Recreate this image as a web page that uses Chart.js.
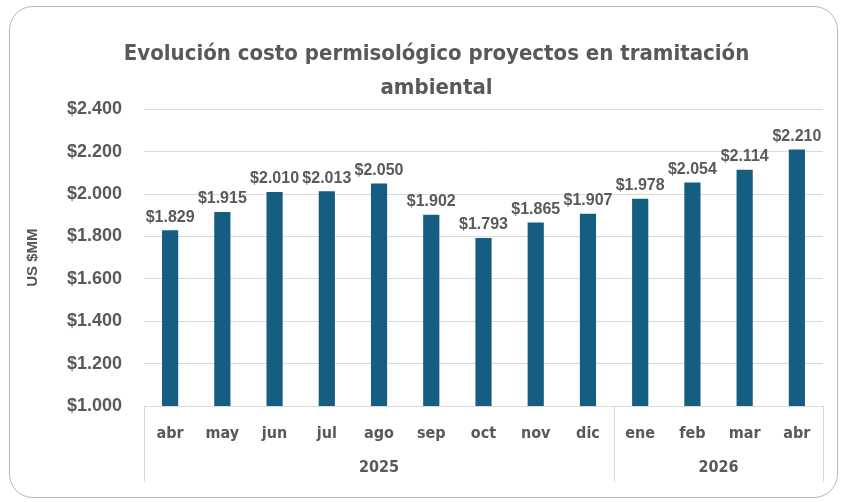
<!DOCTYPE html>
<html>
<head>
<meta charset="utf-8">
<script src="https://cdn.jsdelivr.net/npm/chart.js@4/dist/chart.umd.min.js"></script>
<style>
    html, body { margin: 0; padding: 0; background: #ffffff; }
    #frame {
        position: absolute; left: 9px; top: 6px; width: 829px; height: 492px;
        border: 1.5px solid #b8b8b8; border-radius: 24px; box-sizing: border-box;
    }
    #chart { position: absolute; left: 0; top: 0; }
</style>
</head>
<body>
<div id="frame"></div>
<canvas id="chart" width="843" height="502"></canvas>
<script>
const months = ['abr', 'may', 'jun', 'jul', 'ago', 'sep', 'oct', 'nov', 'dic', 'ene', 'feb', 'mar', 'abr'];
const years = ['2025', '2026'];
const yearSizes = [9, 4];
const costs = [1829, 1915, 2010, 2013, 2050, 1902, 1793, 1865, 1907, 1978, 2054, 2114, 2210];
const yTicks = [1000, 1200, 1400, 1600, 1800, 2000, 2200, 2400];

const textGray = '#595959';
const narrowFont = '"Liberation Sans Narrow", "DejaVu Sans Condensed", "Liberation Sans", sans-serif';
const wideFont = '"Liberation Sans", Arial, sans-serif';

function money(v) {
    let s = String(Math.round(v));
    if (s.length > 3) {
        s = s.slice(0, s.length - 3) + '.' + s.slice(s.length - 3);
    }
    return '$' + s;
}

// values above each bar
const barLabels = {
    id: 'barLabels',
    afterDatasetsDraw(chart) {
        const ctx = chart.ctx;
        const meta = chart.getDatasetMeta(0);
        ctx.save();
        ctx.fillStyle = textGray;
        ctx.font = 'bold 16px ' + wideFont;
        ctx.textAlign = 'center';
        ctx.textBaseline = 'bottom';
        meta.data.forEach((bar, i) => {
            ctx.fillText(money(costs[i]), bar.x, bar.y - 5);
        });
        ctx.restore();
    }
};

// second category row (years) with its box lines
const yearRow = {
    id: 'yearRow',
    afterDraw(chart) {
        const ctx = chart.ctx;
        const x = chart.scales.x;
        const area = chart.chartArea;
        const bottom = area.bottom + 76;
        const half = (x.getPixelForValue(1) - x.getPixelForValue(0)) / 2;
        ctx.save();
        ctx.strokeStyle = '#d9d9d9';
        ctx.lineWidth = 1;
        ctx.fillStyle = textGray;
        ctx.font = 'bold 16px ' + narrowFont;
        ctx.textAlign = 'center';
        ctx.textBaseline = 'middle';

        ctx.beginPath();
        ctx.moveTo(area.left, area.bottom + 0.5);
        ctx.lineTo(area.right, area.bottom + 0.5);
        ctx.stroke();

        let start = 0;
        years.forEach((year, k) => {
            const end = start + yearSizes[k] - 1;
            const left = x.getPixelForValue(start) - half;
            const right = x.getPixelForValue(end) + half;
            ctx.beginPath();
            ctx.moveTo(Math.round(left) + 0.5, area.bottom);
            ctx.lineTo(Math.round(left) + 0.5, bottom);
            ctx.moveTo(Math.round(right) + 0.5, area.bottom);
            ctx.lineTo(Math.round(right) + 0.5, bottom);
            ctx.stroke();
            ctx.fillText(year, (left + right) / 2, area.bottom + 62);
            start = end + 1;
        });
        ctx.restore();
    }
};

new Chart(document.getElementById('chart'), {
    type: 'bar',
    data: {
        labels: months,
        datasets: [{
            data: costs,
            backgroundColor: '#155d81',
            barPercentage: 0.62,
            categoryPercentage: 0.5
        }]
    },
    options: {
        responsive: false,
        animation: false,
        layout: { padding: { left: 50, right: 20, top: 37, bottom: 0 } },
        plugins: {
            legend: { display: false },
            tooltip: { enabled: false },
            title: {
                display: true,
                text: ['Evolución costo permisológico proyectos en tramitación', 'ambiental'],
                color: textGray,
                font: { family: narrowFont, size: 22, weight: 'bold', lineHeight: 1.55 },
                padding: { top: 0, bottom: 4 }
            }
        },
        scales: {
            x: {
                grid: { display: false, drawTicks: false },
                border: { display: false },
                ticks: {
                    color: textGray,
                    padding: 18,
                    font: { family: narrowFont, size: 16, weight: 'bold' }
                },
                afterFit(scale) { scale.height = 96; }
            },
            y: {
                min: 1000,
                max: 2400,
                afterBuildTicks(scale) { scale.ticks = yTicks.map(v => ({ value: v })); },
                grid: { color: '#d9d9d9', drawTicks: false },
                border: { display: false },
                ticks: {
                    color: textGray,
                    padding: 22,
                    font: { family: wideFont, size: 18, weight: 'bold' },
                    callback: v => money(v)
                },
                title: {
                    display: true,
                    text: 'US $MM',
                    color: textGray,
                    font: { family: wideFont, size: 15, weight: 'bold' },
                    padding: { top: -26, bottom: 0 }
                },
                afterFit(scale) { scale.width = 94; }
            }
        }
    },
    plugins: [barLabels, yearRow]
});
</script>
</body>
</html>
